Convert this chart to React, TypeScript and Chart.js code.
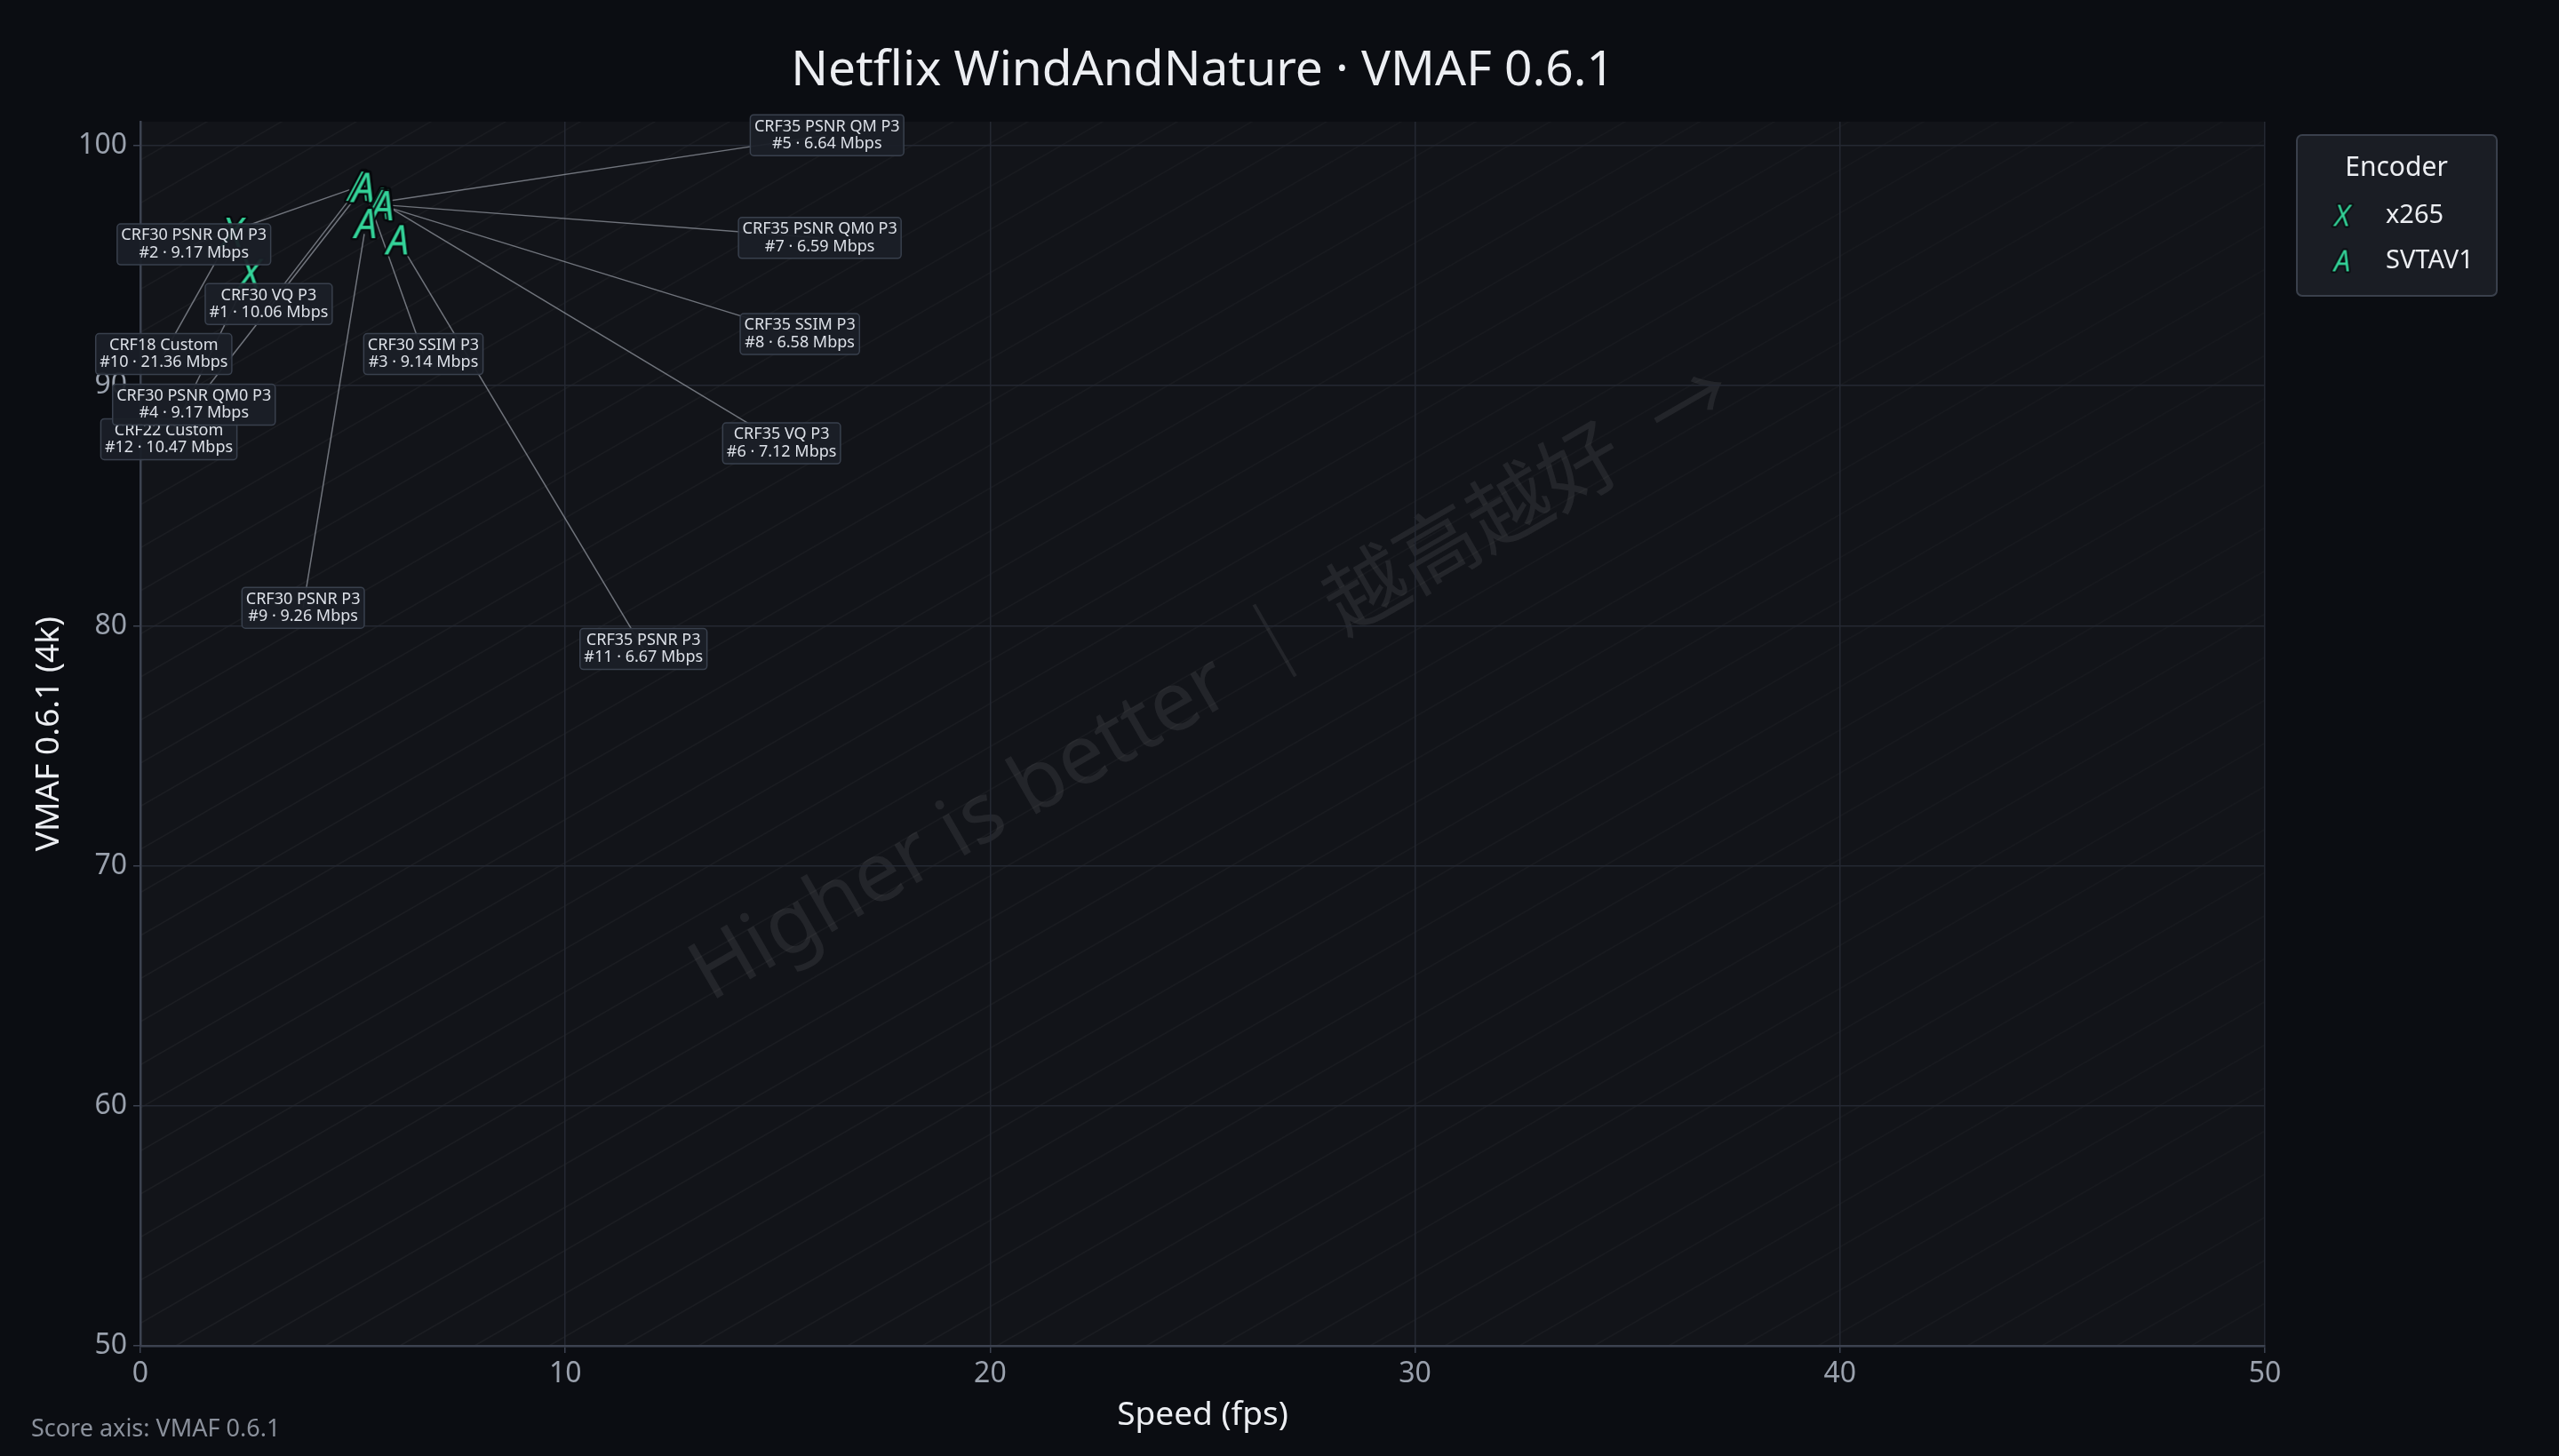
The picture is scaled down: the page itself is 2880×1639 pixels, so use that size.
import React, { useEffect, useRef } from 'react';
import { Chart, registerables } from 'chart.js';

Chart.register(...registerables);

// ---------------- data ----------------
const chartTitle = 'Netflix WindAndNature · VMAF 0.6.1';
const xAxisTitle = 'Speed (fps)';
const yAxisTitle = 'VMAF 0.6.1 (4k)';
const footerNote = 'Score axis: VMAF 0.6.1';
const watermarkText = 'Higher is better ｜ 越高越好  →';
const legendTitle = 'Encoder';

const encoderNames = ['x265', 'SVTAV1'];
const encoderGlyphs = ['X', 'A'];

const ranks = [1, 2, 3, 4, 5, 6, 7, 8, 9, 10, 11, 12];
const configNames = [
  'CRF30 VQ P3',
  'CRF30 PSNR QM P3',
  'CRF30 SSIM P3',
  'CRF30 PSNR QM0 P3',
  'CRF35 PSNR QM P3',
  'CRF35 VQ P3',
  'CRF35 PSNR QM0 P3',
  'CRF35 SSIM P3',
  'CRF30 PSNR P3',
  'CRF18 Custom',
  'CRF35 PSNR P3',
  'CRF22 Custom',
];
const pointEncoders = [
  'SVTAV1', 'SVTAV1', 'SVTAV1', 'SVTAV1', 'SVTAV1', 'SVTAV1',
  'SVTAV1', 'SVTAV1', 'SVTAV1', 'x265', 'SVTAV1', 'x265',
];
const bitratesMbps = [10.06, 9.17, 9.14, 9.17, 6.64, 7.12, 6.59, 6.58, 9.26, 21.36, 6.67, 10.47];
const speedFps = [5.17, 5.16, 5.26, 5.25, 5.62, 5.72, 5.63, 5.71, 5.31, 2.16, 6.06, 2.57];
const vmafScores = [98.34, 98.31, 98.28, 98.26, 97.64, 97.58, 97.55, 97.5, 96.76, 96.39, 96.08, 94.67];

// label anchor positions (data units) as placed in the reference
const labelSpeed = [3.02, 1.26, 6.66, 1.26, 16.16, 15.09, 15.99, 15.52, 3.83, 0.55, 11.84, 0.67];
const labelVmaf = [93.4, 95.89, 91.32, 89.21, 100.44, 87.6, 96.16, 92.15, 80.75, 91.32, 79.03, 87.77];

const xRange = [0, 50];
const yRange = [50, 101];
const tickStep = 10;

// ---------------- styles ----------------
const W = 2880;
const H = 1639;
const FONT = '"Noto Sans", "Noto Sans CJK SC", sans-serif';
const PAGE_BG = '#0b0d12';
const PLOT_BG = '#121419';
const GRID = '#242832';
const AXIS = '#3c4250';
const GREEN = '#34d399';
const TEXT = '#eceef2';
const MUTED = '#9aa1ad';

function makeGlyph(ch: string, size: number) {
  const s = Math.ceil(size * 1.4);
  const c = document.createElement('canvas');
  c.width = s;
  c.height = s;
  const g = c.getContext('2d') as CanvasRenderingContext2D;
  g.font = `italic ${size}px ${FONT}`;
  g.textAlign = 'center';
  g.textBaseline = 'alphabetic';
  const by = s / 2 + size * 0.357;
  g.lineJoin = 'round';
  g.lineWidth = Math.max(3, size * 0.1);
  g.strokeStyle = 'rgba(6,8,12,0.95)';
  g.strokeText(ch, s / 2, by);
  g.fillStyle = GREEN;
  g.fillText(ch, s / 2, by);
  return c;
}

function roundRect(ctx: CanvasRenderingContext2D, x: number, y: number, w: number, h: number, r: number) {
  ctx.beginPath();
  ctx.moveTo(x + r, y);
  ctx.lineTo(x + w - r, y);
  ctx.arcTo(x + w, y, x + w, y + r, r);
  ctx.lineTo(x + w, y + h - r);
  ctx.arcTo(x + w, y + h, x + w - r, y + h, r);
  ctx.lineTo(x + r, y + h);
  ctx.arcTo(x, y + h, x, y + h - r, r);
  ctx.lineTo(x, y + r);
  ctx.arcTo(x, y, x + r, y, r);
  ctx.closePath();
}

const backdropPlugin = {
  id: 'backdrop',
  beforeDraw(chart: any) {
    const { ctx, chartArea: a } = chart;
    ctx.save();
    ctx.fillStyle = PAGE_BG;
    ctx.fillRect(0, 0, chart.width, chart.height);
    ctx.fillStyle = PLOT_BG;
    ctx.fillRect(a.left, a.top, a.right - a.left, a.bottom - a.top);
    ctx.beginPath();
    ctx.rect(a.left, a.top, a.right - a.left, a.bottom - a.top);
    ctx.clip();
    const ang = Math.PI / 6;
    const dx = Math.cos(ang);
    const dy = Math.sin(ang);
    const L = 6000;
    const grad = ctx.createLinearGradient(a.left, a.bottom, a.right, a.top);
    grad.addColorStop(0, 'rgba(255,255,255,0.045)');
    grad.addColorStop(1, 'rgba(255,255,255,0.015)');
    ctx.strokeStyle = grad;
    ctx.lineWidth = 1.5;
    ctx.beginPath();
    for (let x0 = a.left - 5000; x0 < a.right; x0 += 84) {
      ctx.moveTo(x0, a.bottom);
      ctx.lineTo(x0 + L * dx, a.bottom - L * dy);
    }
    ctx.stroke();
    // watermark
    const cx = a.left + (a.right - a.left) * 0.505;
    const cy = a.top + (a.bottom - a.top) * 0.46;
    ctx.translate(cx, cy);
    ctx.rotate(-ang);
    ctx.font = `93px ${FONT}`;
    ctx.textAlign = 'center';
    ctx.textBaseline = 'middle';
    ctx.fillStyle = 'rgba(255,255,255,0.075)';
    ctx.fillText(watermarkText, 0, 0);
    ctx.restore();
  },
};

const LABEL_FONT = 18;
const LABEL_LINE = 19.5;

const leaderPlugin = {
  id: 'leaders',
  beforeDatasetsDraw(chart: any) {
    const { ctx, scales } = chart;
    ctx.save();
    ctx.strokeStyle = 'rgba(175,180,190,0.6)';
    ctx.lineWidth = 1.5;
    for (let i = 0; i < ranks.length; i++) {
      const px = scales.x.getPixelForValue(speedFps[i]);
      const py = scales.y.getPixelForValue(vmafScores[i]);
      const lx = scales.x.getPixelForValue(labelSpeed[i]);
      const ly = scales.y.getPixelForValue(labelVmaf[i]);
      const d = Math.hypot(lx - px, ly - py);
      if (d < 30) continue;
      const gap = 12;
      const ex = px + ((lx - px) * gap) / d;
      const ey = py + ((ly - py) * gap) / d;
      ctx.beginPath();
      ctx.moveTo(lx, ly);
      ctx.lineTo(ex, ey);
      ctx.stroke();
    }
    ctx.restore();
  },
};

const labelPlugin = {
  id: 'pointLabels',
  afterDatasetsDraw(chart: any) {
    const { ctx, scales } = chart;
    const order: number[] = [];
    encoderNames.forEach((enc) => {
      ranks.forEach((_, i) => {
        if (pointEncoders[i] === enc) order.push(i);
      });
    });
    ctx.save();
    ctx.font = `${LABEL_FONT}px ${FONT}`;
    ctx.textAlign = 'center';
    ctx.textBaseline = 'middle';
    for (const i of order) {
      const lx = scales.x.getPixelForValue(labelSpeed[i]);
      const ly = scales.y.getPixelForValue(labelVmaf[i]);
      const l1 = configNames[i];
      const l2 = `#${ranks[i]} · ${bitratesMbps[i].toFixed(2)} Mbps`;
      const tw = Math.max(ctx.measureText(l1).width, ctx.measureText(l2).width);
      const w = tw + 9;
      const h = LABEL_LINE * 2 + 7;
      roundRect(ctx, lx - w / 2, ly - h / 2, w, h, 4);
      ctx.fillStyle = 'rgba(27,31,39,0.94)';
      ctx.fill();
      ctx.strokeStyle = '#39404d';
      ctx.lineWidth = 1.5;
      ctx.stroke();
      ctx.fillStyle = '#dde1e8';
      ctx.fillText(l1, lx, ly - LABEL_LINE / 2);
      ctx.fillText(l2, lx, ly + LABEL_LINE / 2);
    }
    ctx.restore();
  },
};

const legendPlugin = {
  id: 'customLegend',
  afterDraw(chart: any) {
    const { ctx, chartArea: a } = chart;
    const bx = a.right + 36;
    const by = a.top + 15;
    const bw = 225;
    const bh = 181;
    ctx.save();
    roundRect(ctx, bx, by, bw, bh, 6);
    ctx.fillStyle = '#1a1d24';
    ctx.fill();
    ctx.strokeStyle = '#3a404c';
    ctx.lineWidth = 2;
    ctx.stroke();
    ctx.fillStyle = TEXT;
    ctx.font = `30px ${FONT}`;
    ctx.textAlign = 'center';
    ctx.textBaseline = 'middle';
    ctx.fillText(legendTitle, bx + 112, by + 37);
    encoderNames.forEach((name, k) => {
      const yy = by + 91 + k * 51;
      const glyph = makeGlyph(encoderGlyphs[k], 33);
      ctx.drawImage(glyph, bx + 51 - glyph.width / 2, yy - glyph.height / 2);
      ctx.fillStyle = TEXT;
      ctx.font = `29px ${FONT}`;
      ctx.textAlign = 'left';
      ctx.fillText(name, bx + 100, yy);
    });
    // footer
    ctx.fillStyle = '#8a909b';
    ctx.font = `27px ${FONT}`;
    ctx.textAlign = 'left';
    ctx.textBaseline = 'middle';
    ctx.fillText(footerNote, 35, 1609);
    ctx.restore();
  },
};

export default function App() {
  const ref = useRef<HTMLCanvasElement | null>(null);
  useEffect(() => {
    if (!ref.current) return;
    Chart.defaults.font.family = FONT;
    const datasets = encoderNames.map((enc, e) => ({
      label: enc,
      data: ranks
        .map((_, i) => i)
        .filter((i) => pointEncoders[i] === enc)
        .map((i) => ({ x: speedFps[i], y: vmafScores[i] })),
      pointStyle: makeGlyph(encoderGlyphs[e], 45),
      pointRadius: 20,
      pointHoverRadius: 20,
      showLine: false,
    }));
    const chart = new Chart(ref.current, {
      type: 'scatter',
      data: { datasets },
      options: {
        animation: false,
        responsive: false,
        devicePixelRatio: 1,
        layout: { padding: { left: 0, right: 331, top: 0, bottom: 0 } },
        plugins: {
          legend: { display: false },
          tooltip: { enabled: false },
          title: {
            display: true,
            text: chartTitle,
            color: TEXT,
            fullSize: false,
            font: { family: FONT, size: 55, weight: 'normal' },
            padding: { top: 47, bottom: 24 },
          },
        },
        scales: {
          x: {
            type: 'linear',
            min: xRange[0],
            max: xRange[1],
            ticks: { stepSize: tickStep, color: MUTED, font: { size: 32 }, padding: 5 },
            grid: { color: GRID, tickLength: 8, tickColor: AXIS, lineWidth: 1.5 },
            border: { color: AXIS, width: 2.5 },
            title: {
              display: true,
              text: xAxisTitle,
              color: TEXT,
              font: { size: 37 },
              padding: { top: 0, bottom: 23.8 },
            },
            afterFit: (s: any) => {
              s.height = 124;
            },
          },
          y: {
            type: 'linear',
            min: yRange[0],
            max: yRange[1],
            ticks: { stepSize: tickStep, includeBounds: false, color: MUTED, font: { size: 32 }, padding: 7 },
            grid: { color: GRID, tickLength: 8, tickColor: AXIS, lineWidth: 1.5 },
            border: { color: AXIS, width: 2.5 },
            title: {
              display: true,
              text: yAxisTitle,
              color: TEXT,
              font: { size: 37 },
              padding: { top: 32.8, bottom: 0 },
            },
            afterFit: (s: any) => {
              s.width = 158;
            },
          },
        },
      },
      plugins: [backdropPlugin, leaderPlugin, labelPlugin, legendPlugin],
    } as any);
    return () => chart.destroy();
  }, []);
  return (
    <div style={{ position: 'fixed', left: 0, top: 0, width: W, height: H, background: PAGE_BG }}>
      <canvas ref={ref} width={W} height={H} style={{ width: W, height: H, display: 'block' }} />
    </div>
  );
}
